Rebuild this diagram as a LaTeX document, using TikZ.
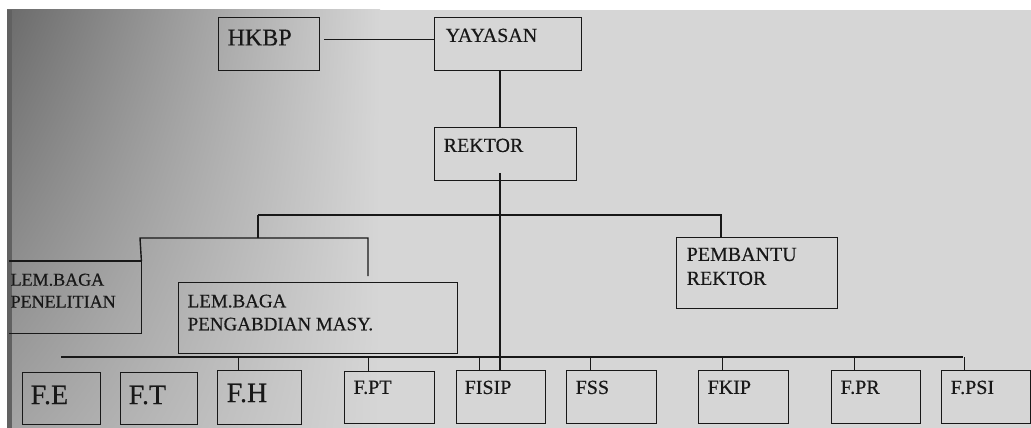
\documentclass[tikz,border=0pt]{standalone}
\usepackage{fontspec}
\setmainfont{Liberation Serif}[FakeBold=0.4]
\usepackage{xcolor}
\usetikzlibrary{positioning, shadings}
\definecolor{latar}{HTML}{D6D6D6}
\definecolor{tinta}{HTML}{181818}

\begin{document}
\begin{tikzpicture}[x=1pt, y=-1pt, line width=1.4pt, color=tinta,
    kotak/.style={draw, rectangle, inner sep=0pt, anchor=north west, minimum height=53pt},
    isi/.style={anchor=north west, inner sep=0pt, align=left, font=\fontsize{20}{24}\selectfont},
    besar/.style={isi, font=\fontsize{28}{30}\selectfont}]
    % 0. Latar (kertas hasil pindai)
    \useasboundingbox (0,0) rectangle (1031,428);
    \fill[white] (0,0) rectangle (1031,428);
    \fill[latar] (7,10) rectangle (1031,428);
    \shade[upper left=black!58, lower left=black!36, upper right=latar, lower right=latar] (7,10) rectangle (380,428);
    \fill[black!62] (7,10) rectangle (12,428);

    % 1. Kotak atas
    \node[kotak, minimum width=101pt] (hkbp) at (218,17) {};
    \node[kotak, minimum width=147pt] (yayasan) at (434,17) {};
    \node[kotak, minimum width=142pt] (rektor) at (434,127) {};
    \node[isi, below right=12pt and 9pt of hkbp.north west, font=\fontsize{24}{28}\selectfont] (t-hkbp) {HKBP};
    \node[isi, below right=11pt and 11pt of yayasan.north west] (t-yayasan) {YAYASAN};
    \node[isi, below right=11pt and 9pt of rektor.north west] (t-rektor) {REKTOR};

    % 2. Lembaga dan pembantu rektor
    \node[kotak, draw=none, minimum width=131pt, minimum height=71pt] (penelitian) at (9,261) {};
    \node[kotak, minimum width=279pt, minimum height=71pt] (pengabdian) at (178,282) {};
    \node[kotak, minimum width=161pt, minimum height=71pt] (pembantu) at (676,237) {};
    \draw (penelitian.north west) -- (penelitian.north east) -- (penelitian.south east) -- (penelitian.south west);
    \node[isi, below right=12pt and 1pt of penelitian.north west, font=\fontsize{18}{22}\selectfont] (t-penelitian) {LEM.BAGA\\PENELITIAN};
    \node[isi, below right=12pt and 9pt of pengabdian.north west, font=\fontsize{19}{23}\selectfont] (t-pengabdian) {LEM.BAGA\\PENGABDIAN MASY.};
    \node[isi, below right=10pt and 10pt of pembantu.north west] (t-pembantu) {PEMBANTU\\REKTOR};

    % 3. Fakultas
    \node[kotak, minimum width=78pt, minimum height=52pt] (fe) at (22,372) {};
    \node[kotak, minimum width=77pt, minimum height=52pt] (ft) at (120,372) {};
    \node[kotak, minimum width=84pt, minimum height=54pt] (fh) at (217,370) {};
    \node[kotak, minimum width=90pt, minimum height=52pt] (fpt) at (344,371) {};
    \node[kotak, minimum width=89pt] (fisip) at (456,370) {};
    \node[kotak, minimum width=90pt] (fss) at (566,370) {};
    \node[kotak, minimum width=90pt] (fkip) at (698,370) {};
    \node[kotak, minimum width=89pt] (fpr) at (831,370) {};
    \node[kotak, minimum width=89pt] (fpsi) at (941,370) {};
    \node[besar, below right=13pt and 8pt of fe.north west] (t-fe) {F.E};
    \node[besar, below right=13pt and 8pt of ft.north west] (t-ft) {F.T};
    \node[besar, below right=13pt and 9pt of fh.north west] (t-fh) {F.H};
    \node[isi, below right=9pt and 9pt of fpt.north west] (t-fpt) {F.PT};
    \node[isi, below right=10pt and 8pt of fisip.north west] (t-fisip) {FISIP};
    \node[isi, below right=10pt and 9pt of fss.north west] (t-fss) {FSS};
    \node[isi, below right=10pt and 9pt of fkip.north west] (t-fkip) {FKIP};
    \node[isi, below right=10pt and 9pt of fpr.north west] (t-fpr) {F.PR};
    \node[isi, below right=10pt and 9pt of fpsi.north west] (t-fpsi) {F.PSI};

    % 4. Garis penghubung
    \coordinate (poros) at (500,0);
    \draw ([shift={(4pt,4.5pt)}]hkbp.east) -- ([yshift=4.5pt]yayasan.west);
    \draw (yayasan.south -| poros) -- (rektor.north -| poros);
    \path (rektor.south -| poros) ++(0,-8) coordinate (ujung);
    \draw (ujung) -- (fisip.north -| poros);
    \coordinate (ki) at (258,215);
    \coordinate (ka) at (721,215);
    \coordinate (b1) at (140,238);
    \coordinate (b2) at (368,238);
    \coordinate (b3) at (368,276);
    \draw (ki) -- (ka) -- (ka |- pembantu.north);
    \draw (ki) -- (ki |- b1);
    \draw (penelitian.north east) -- (b1) -- (b2) -- (b3);
    \coordinate (bus-a) at (61,357);
    \coordinate (bus-b) at (963,357);
    \draw (bus-a) -- (bus-b);
    \foreach \f in {fh, fpt, fisip, fss, fkip, fpr, fpsi}
        \draw (bus-a -| \f.north) ++(-21.5,0) -- ([xshift=-21.5pt]\f.north);
\end{tikzpicture}
\end{document}
